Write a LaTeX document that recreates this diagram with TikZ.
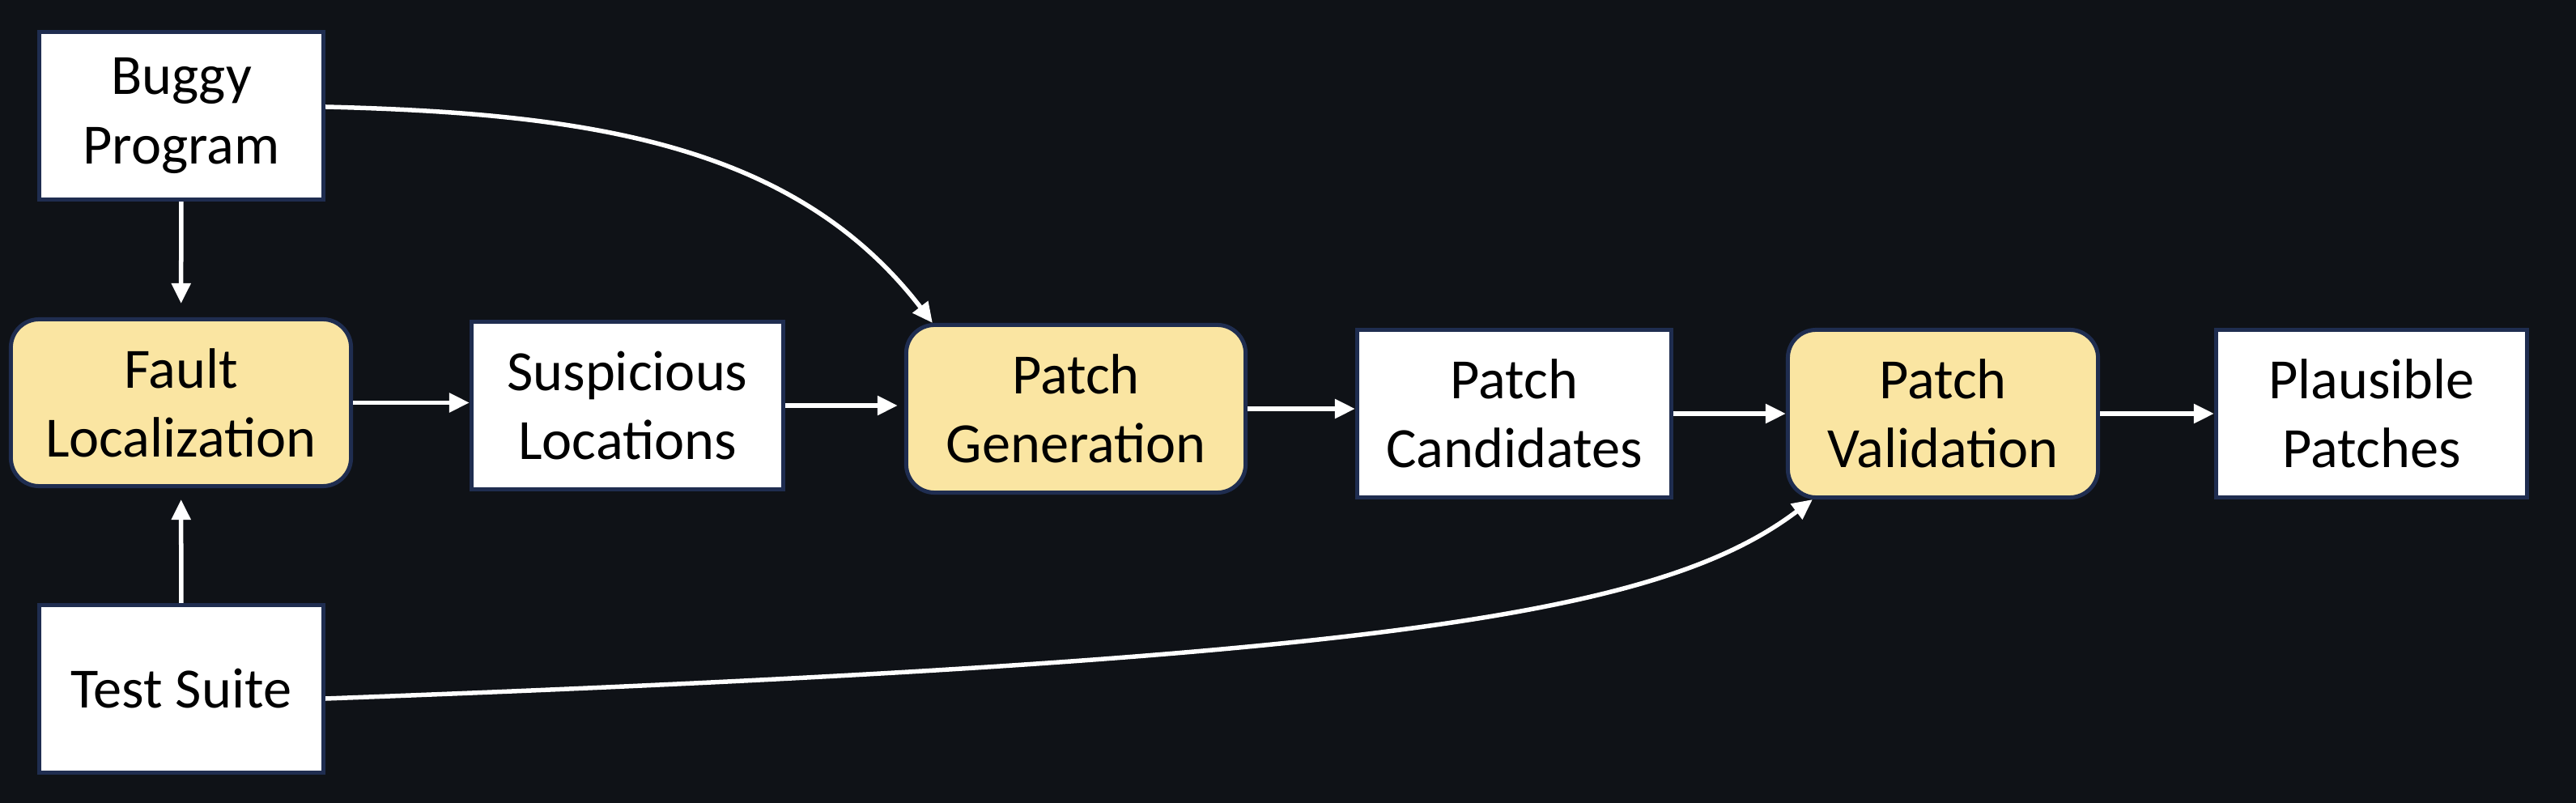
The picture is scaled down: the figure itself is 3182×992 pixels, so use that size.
\documentclass[tikz,border=0pt]{standalone}
\usepackage{fontspec}
\setmainfont{Carlito}
\usetikzlibrary{arrows.meta}

% Colours of the picture
\definecolor{bgdark}{HTML}{0F1217}
\definecolor{stepfill}{HTML}{FAE5A2}
\definecolor{edgenavy}{HTML}{1F2D50}

\tikzset{
  databox/.style={draw=edgenavy, line width=0.05cm, fill=white, align=center,
    inner sep=0pt, font=\fontsize{20}{24.2}\selectfont},
  stepbox/.style={databox, fill=stepfill, rounded corners=0.35cm},
  flow/.style={draw=white, line width=0.055cm, -{Triangle[length=0.25cm, width=0.23cm]}}
}

\begin{document}
\begin{tikzpicture}[x=0.01cm, y=-0.01cm]

    % Dark background, which also fixes the size of the page
    \fill[bgdark] (0,0) rectangle (3182,992);
    \useasboundingbox (0,0) rectangle (3182,992);

    % Inputs on the left
    \node[databox, minimum width=3.51cm, minimum height=2.07cm] (bug) at (224,143) {Buggy\\Program};
    \node[databox, minimum width=3.51cm, minimum height=2.07cm] (test) at (224,851) {Test Suite};

    % Main row: steps (rounded, yellow) and their results (white)
    \node[stepbox, minimum width=4.20cm, minimum height=2.06cm] (fault) at (223.5,497.5) {Fault\\Localization};
    \node[databox, minimum width=3.85cm, minimum height=2.07cm] (susp) at (775,501) {Suspicious\\Locations};
    \node[stepbox, minimum width=4.19cm, minimum height=2.07cm] (gen) at (1329,505) {Patch\\Generation};
    \node[databox, minimum width=3.88cm, minimum height=2.07cm] (cand) at (1870.5,511) {Patch\\Candidates};
    \node[stepbox, minimum width=3.83cm, minimum height=2.07cm] (valid) at (2400,511) {Patch\\Validation};
    \node[databox, minimum width=3.84cm, minimum height=2.07cm] (plaus) at (2929.5,511) {Plausible\\Patches};

    % Inputs into fault localization
    \draw[flow, shorten >=0.17cm] (bug) -- (fault);
    \draw[flow, shorten >=0.14cm] (test) -- (fault);

    % Arrows along the main row
    \draw[flow] (fault.east) -- (fault.east -| susp.west);
    \draw[flow, shorten >=0.08cm] (susp.east) -- (susp.east -| gen.west);
    \draw[flow] (gen.east) -- (gen.east -| cand.west);
    \draw[flow] (cand.east) -- (cand.east -| valid.west);
    \draw[flow] (valid.east) -- (valid.east -| plaus.west);

    % Curved inputs into generation and validation
    \draw[flow] ([yshift=0.11cm]bug.east) .. controls (720,140) and (980,175) .. ([xshift=0.35cm]gen.north west);
    \draw[flow] ([yshift=-0.12cm]test.east) .. controls (1700,815) and (2050,760) .. ([xshift=0.33cm]valid.south west);

\end{tikzpicture}
\end{document}
